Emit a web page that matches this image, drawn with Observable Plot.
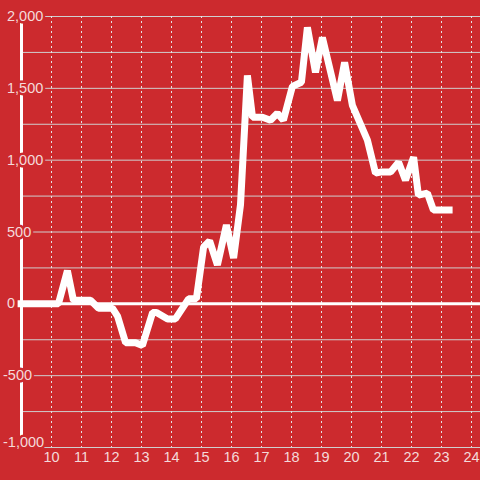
<!DOCTYPE html>
<html>
<head>
<meta charset="utf-8">
<script src="https://cdn.jsdelivr.net/npm/d3@7"></script>
<script src="https://cdn.jsdelivr.net/npm/@observablehq/plot@0.6"></script>
<style>
  html, body { margin: 0; padding: 0; background: #cc2a2e; }
  #chart svg { display: block; }
</style>
</head>
<body>
<div id="chart"></div>
<script>
const xTicks = [10, 11, 12, 13, 14, 15, 16, 17, 18, 19, 20, 21, 22, 23, 24];
const yTicks = [-1000, -500, 0, 500, 1000, 1500, 2000];
const yGrid = [-1000, -750, -500, -250, 250, 500, 750, 1000, 1250, 1500, 1750, 2000];

const dayX = [8.87, 10.23, 10.53, 10.73, 11.3, 11.57, 12.03, 12.2, 12.47, 12.8, 13.03, 13.37, 13.5, 13.87, 14.13, 14.57, 14.83, 15.07, 15.27, 15.53, 15.83, 16.07, 16.3, 16.53, 16.7, 17.03, 17.3, 17.53, 17.73, 18.03, 18.33, 18.53, 18.8, 19.03, 19.53, 19.77, 20.03, 20.53, 20.8, 20.97, 21.3, 21.57, 21.8, 22.07, 22.23, 22.53, 22.73, 23.37];
const valueY = [0, 0, 230, 25, 25, -30, -30, -85, -271, -271, -290, -60, -60, -105, -105, 35, 35, 396, 438, 271, 549, 319, 690, 1590, 1299, 1299, 1278, 1326, 1278, 1514, 1542, 1924, 1611, 1854, 1415, 1680, 1382, 1139, 910, 917, 917, 986, 861, 1021, 757, 771, 653, 653];

const data = dayX.map((x, i) => ({x, y: valueY[i]}));
const bg = "#cc2a2e";
const labelColor = "#f4dada";
const fmt = d => d3.format(",")(d).replace("\u2212", "-");

const chart = Plot.plot({
  width: 480,
  height: 480,
  marginLeft: 21,
  marginRight: 0,
  marginTop: 16,
  marginBottom: 33,
  x: {domain: [9, 24.3], axis: null},
  y: {domain: [-1000, 2000], axis: null},
  style: {background: bg, fontFamily: "'Liberation Sans', Arial, sans-serif", fontSize: "14.5px"},
  marks: [
    Plot.ruleY(yGrid, {stroke: "#cfcfcf", strokeWidth: 1}),
    Plot.ruleX(xTicks, {stroke: "#e4e4e4", strokeWidth: 1, strokeDasharray: "2,3"}),
    Plot.frame({anchor: "left", stroke: "#ffffff", strokeWidth: 3}),
    Plot.ruleY([0], {stroke: "#ffffff", strokeWidth: 3}),
    Plot.text(yTicks.filter(d => d >= 0), {
      y: d => d, text: fmt, frameAnchor: "left", textAnchor: "start", dx: -14.5,
      fill: labelColor, stroke: bg, strokeWidth: 5, paintOrder: "stroke"
    }),
    Plot.text(yTicks.filter(d => d < 0 && d > -1000), {
      y: d => d, text: fmt, frameAnchor: "left", textAnchor: "start", dx: -18.5,
      fill: labelColor, stroke: bg, strokeWidth: 5, paintOrder: "stroke"
    }),
    Plot.text(yTicks.filter(d => d === -1000), {
      y: d => d, text: fmt, frameAnchor: "left", textAnchor: "start", dx: -18.5, dy: -5,
      fill: labelColor, stroke: bg, strokeWidth: 5, paintOrder: "stroke"
    }),
    Plot.text(xTicks, {
      x: d => d, text: d => String(d), frameAnchor: "bottom", dy: 14,
      fill: labelColor
    }),
    Plot.line(data, {
      x: "x", y: "y", stroke: "#ffffff", strokeWidth: 7,
      strokeLinejoin: "bevel", strokeLinecap: "butt"
    })
  ]
});
document.getElementById("chart").appendChild(chart);
</script>
</body>
</html>
